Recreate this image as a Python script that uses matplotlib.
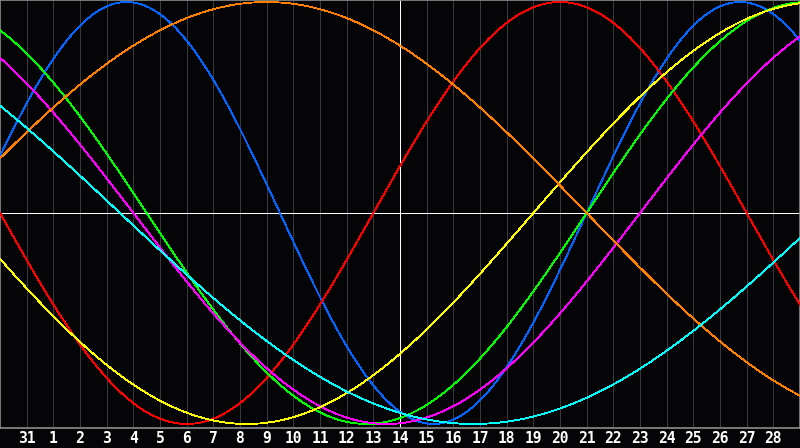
import numpy as np
import matplotlib
matplotlib.use("Agg")
import matplotlib.pyplot as plt

# biorhythm cycles (period in days) and colours
cycles = ["physical", "emotional", "intellectual", "intuitive", "aesthetic", "awareness", "spiritual"]
periods = [23, 28, 33, 38, 43, 48, 53]
colors = ["#0066ff", "#ff0000", "#00ff00", "#ff00ff", "#ffff00", "#ff8000", "#00ffff"]

# days lived at the left edge of the chart (Jan 30)
days_alive = 30338
day_labels = ["31"] + [str(d) for d in range(1, 29)]
n_days = 30
today_col = 15  # the "14" column

fig = plt.figure(figsize=(8, 4.48), dpi=100, facecolor="#050508")
ax = fig.add_axes([0, 20 / 448, 1, 428 / 448])
ax.set_facecolor("#050508")

t = np.linspace(0, n_days, 1601)
for name, p, c in zip(cycles, periods, colors):
    ax.plot(t, np.sin(2 * np.pi * (days_alive + t) / p), color=c, lw=0.6,
            antialiased=False, zorder=3, label=name)

for k in range(1, n_days):
    if k == today_col:
        continue
    ax.axvline(k, color="#3a3a3e", lw=0.6, antialiased=False, zorder=1)
ax.axvline(today_col, color="white", lw=0.6, antialiased=False, zorder=2)
ax.axhline(0, color="white", lw=0.6, antialiased=False, zorder=2)

ax.set_xlim(0, n_days)
ax.set_ylim(-1.019, 1.0095)
ax.set_yticks([])
ax.set_xticks(range(1, n_days))
ax.set_xticklabels(day_labels, color="white", fontsize=10.5, fontweight="bold",
                   family="DejaVu Sans Mono")
ax.tick_params(axis="x", length=0, pad=2)
for s in ax.spines.values():
    s.set_color("#8c8c8c")
    s.set_linewidth(1.2)

fig.savefig("out.png", dpi=100, facecolor=fig.get_facecolor())
